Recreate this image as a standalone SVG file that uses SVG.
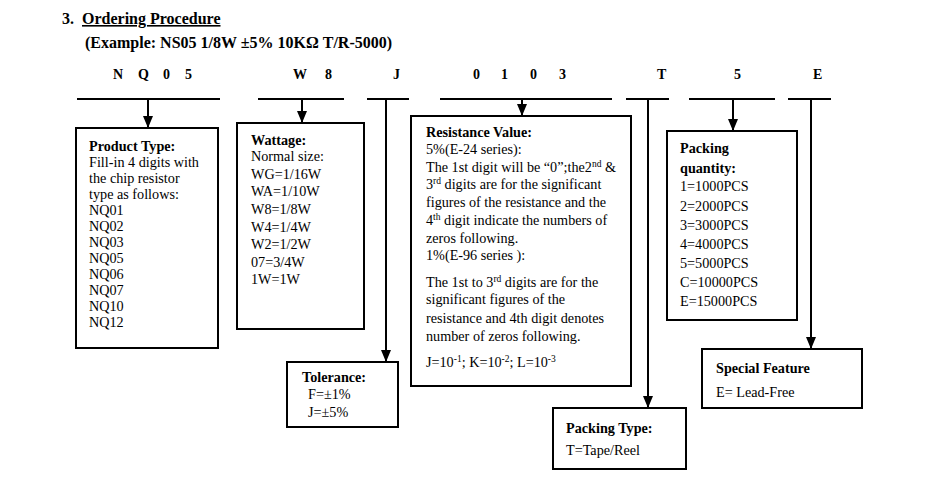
<svg xmlns="http://www.w3.org/2000/svg" width="938" height="488" viewBox="0 0 938 488">
<style>
text{font-family:"Liberation Serif","Times New Roman",serif;fill:#000;}
.t{font-size:14.2px;}
.b{font-size:14.2px;font-weight:bold;}
.h{font-size:16px;font-weight:bold;}
.c{font-size:14px;font-weight:bold;}
.box{fill:#fff;stroke:#000;stroke-width:2;}
.ln{stroke:#000;stroke-width:2;fill:none;}
.s{font-size:9.5px;}
</style>
<defs>
<marker id="ah" markerUnits="userSpaceOnUse" markerWidth="12" markerHeight="10" viewBox="0 0 12 10" refX="12" refY="5" orient="auto">
<path d="M0,0 L12,5 L0,10 Z" fill="#000"/>
</marker>
</defs>
<rect width="938" height="488" fill="#fff"/>
<g id="title">
<text class="h" x="62" y="24">3.</text>
<text class="h" x="82" y="24" text-decoration="underline">Ordering Procedure</text>
<text class="h" x="85" y="48">(Example: NS05 1/8W ±5% 10KΩ T/R-5000)</text>
</g>
<g id="code">
<text class="c" x="113" y="79">N</text>
<text class="c" x="138" y="79">Q</text>
<text class="c" x="163" y="79">0</text>
<text class="c" x="185" y="79">5</text>
<text class="c" x="293" y="79">W</text>
<text class="c" x="325" y="79">8</text>
<text class="c" x="393" y="79">J</text>
<text class="c" x="473" y="79">0</text>
<text class="c" x="501" y="79">1</text>
<text class="c" x="530" y="79">0</text>
<text class="c" x="559" y="79">3</text>
<text class="c" x="657" y="79">T</text>
<text class="c" x="734" y="79">5</text>
<text class="c" x="813" y="79">E</text>
</g>
<g id="connectors">
<line class="ln" x1="77" y1="99" x2="220" y2="99"/>
<line class="ln" x1="148" y1="99" x2="148" y2="128" marker-end="url(#ah)"/>
<line class="ln" x1="258" y1="99" x2="344" y2="99"/>
<line class="ln" x1="302" y1="99" x2="302" y2="123" marker-end="url(#ah)"/>
<line class="ln" x1="367" y1="99" x2="409" y2="99"/>
<line class="ln" x1="386" y1="99" x2="386" y2="362" marker-end="url(#ah)"/>
<line class="ln" x1="440" y1="99" x2="612" y2="99"/>
<line class="ln" x1="522" y1="99" x2="522" y2="116" marker-end="url(#ah)"/>
<line class="ln" x1="626" y1="99" x2="669" y2="99"/>
<line class="ln" x1="648" y1="99" x2="648" y2="408" marker-end="url(#ah)"/>
<line class="ln" x1="689" y1="99" x2="775" y2="99"/>
<line class="ln" x1="733" y1="99" x2="733" y2="131" marker-end="url(#ah)"/>
<line class="ln" x1="788" y1="99" x2="831" y2="99"/>
<line class="ln" x1="811" y1="99" x2="811" y2="349" marker-end="url(#ah)"/>
</g>
<g id="product-type">
<rect class="box" x="76" y="128" width="142" height="220"/>
<text class="b" x="89" y="151">Product Type:</text>
<text class="t" x="89" y="167">Fill-in 4 digits with</text>
<text class="t" x="89" y="183">the chip resistor</text>
<text class="t" x="89" y="199">type as follows:</text>
<text class="t" x="89" y="215">NQ01</text>
<text class="t" x="89" y="231">NQ02</text>
<text class="t" x="89" y="247">NQ03</text>
<text class="t" x="89" y="263">NQ05</text>
<text class="t" x="89" y="279">NQ06</text>
<text class="t" x="89" y="295">NQ07</text>
<text class="t" x="89" y="311">NQ10</text>
<text class="t" x="89" y="327">NQ12</text>
</g>
<g id="wattage">
<rect class="box" x="237" y="123" width="127" height="206"/>
<text class="b" x="251" y="145">Wattage:</text>
<text class="t" x="251" y="161">Normal size:</text>
<text class="t" x="251" y="179">WG=1/16W</text>
<text class="t" x="251" y="196">WA=1/10W</text>
<text class="t" x="251" y="214">W8=1/8W</text>
<text class="t" x="251" y="232">W4=1/4W</text>
<text class="t" x="251" y="249">W2=1/2W</text>
<text class="t" x="251" y="267">07=3/4W</text>
<text class="t" x="251" y="284">1W=1W</text>
</g>
<g id="tolerance">
<rect class="box" x="287" y="362" width="111" height="65"/>
<text class="b" x="302" y="382">Tolerance:</text>
<text class="t" x="308" y="399">F=±1%</text>
<text class="t" x="308" y="417">J=±5%</text>
</g>
<g id="resistance-value">
<rect class="box" x="411" y="116" width="220" height="270"/>
<text class="b" x="426" y="137">Resistance Value:</text>
<text class="t" x="426" y="154">5%(E-24 series):</text>
<text class="t" x="426" y="172">The 1st digit will be “0”;the2<tspan class="s" dy="-5">nd</tspan><tspan dy="5"> &amp;</tspan></text>
<text class="t" x="426" y="189">3<tspan class="s" dy="-5">rd</tspan><tspan dy="5"> digits are for the significant</tspan></text>
<text class="t" x="426" y="207">figures of the resistance and the</text>
<text class="t" x="426" y="225">4<tspan class="s" dy="-5">th</tspan><tspan dy="5"> digit indicate the numbers of</tspan></text>
<text class="t" x="426" y="243">zeros following.</text>
<text class="t" x="426" y="260">1%(E-96 series ):</text>
<text class="t" x="426" y="287">The 1st to 3<tspan class="s" dy="-5">rd</tspan><tspan dy="5"> digits are for the</tspan></text>
<text class="t" x="426" y="304">significant figures of the</text>
<text class="t" x="426" y="323">resistance and 4th digit denotes</text>
<text class="t" x="426" y="341">number of zeros following.</text>
<text class="t" x="426" y="367">J=10<tspan class="s" dy="-5">-1</tspan><tspan dy="5">; K=10</tspan><tspan class="s" dy="-5">-2</tspan><tspan dy="5">; L=10</tspan><tspan class="s" dy="-5">-3</tspan></text>
</g>
<g id="packing-type">
<rect class="box" x="553" y="408" width="133" height="61"/>
<text class="b" x="566" y="433">Packing Type:</text>
<text class="t" x="566" y="455">T=Tape/Reel</text>
</g>
<g id="packing-quantity">
<rect class="box" x="667" y="131" width="130" height="189"/>
<text class="b" x="680" y="153">Packing</text>
<text class="b" x="680" y="173">quantity:</text>
<text class="t" x="680" y="191">1=1000PCS</text>
<text class="t" x="680" y="211">2=2000PCS</text>
<text class="t" x="680" y="230">3=3000PCS</text>
<text class="t" x="680" y="249">4=4000PCS</text>
<text class="t" x="680" y="268">5=5000PCS</text>
<text class="t" x="680" y="287">C=10000PCS</text>
<text class="t" x="680" y="306">E=15000PCS</text>
</g>
<g id="special-feature">
<rect class="box" x="702" y="349" width="160" height="59"/>
<text class="b" x="716" y="373">Special Feature</text>
<text class="t" x="716" y="397">E= Lead-Free</text>
</g>
</svg>
